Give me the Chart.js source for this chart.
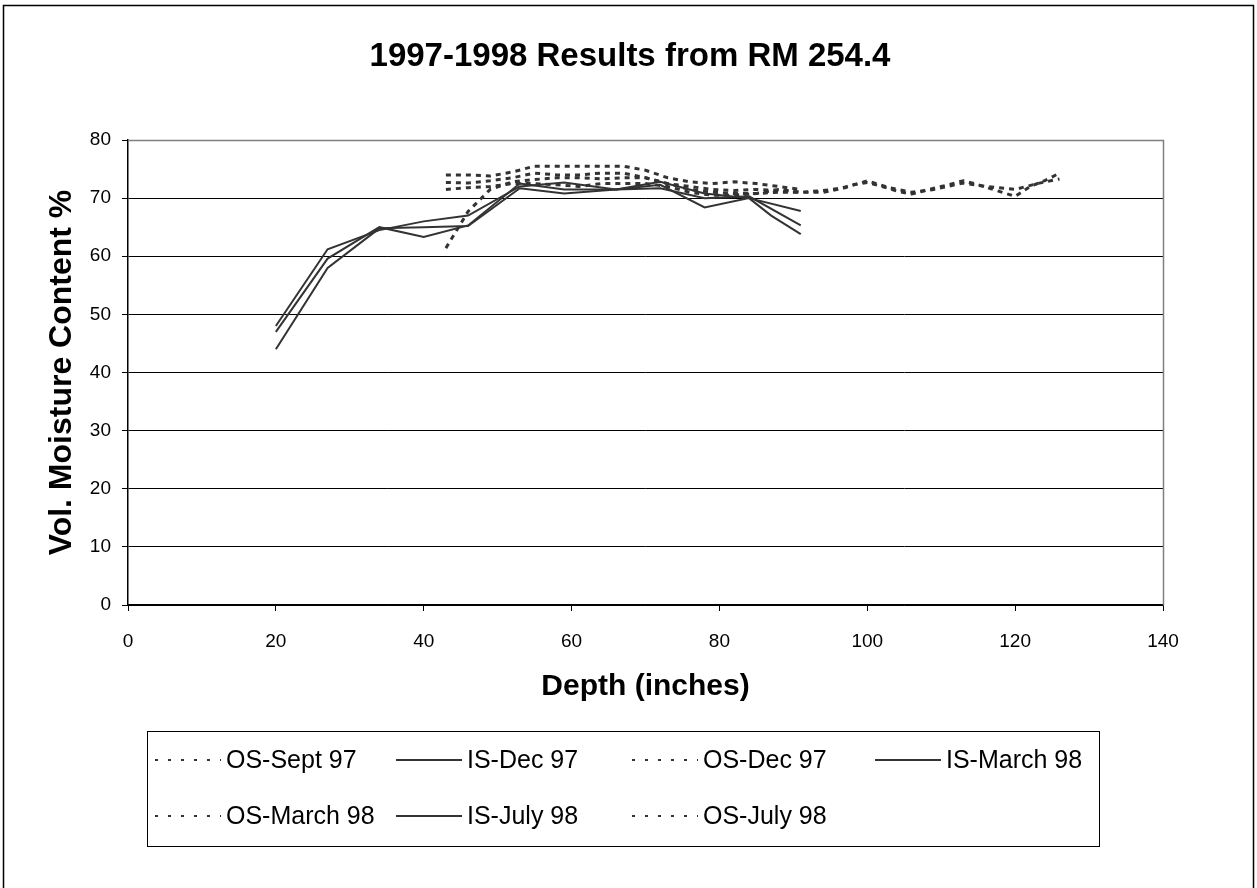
<!DOCTYPE html>
<html>
<head>
<meta charset="utf-8">
<script src="https://cdn.jsdelivr.net/npm/chart.js@4.4.1/dist/chart.umd.min.js"></script>
<style>
  html, body { margin: 0; padding: 0; background: #fff; }
  #wrap { width: 1257px; height: 888px; }
</style>
</head>
<body>
<div id="wrap"><canvas id="moistureChart"></canvas></div>
<script>
// depth (inches) for each series
const isDecDepth = [20, 27, 34, 40, 46, 53, 59, 66, 72, 78, 84, 91];
const isMarchDepth = [20, 27, 34, 40, 46, 53, 59, 66, 72, 78, 84, 87, 91];
const isJulyDepth = [20, 27, 34, 40, 46, 53, 59, 66, 72, 78, 84, 91];
const osSeptDepth = [43, 46, 49, 52, 55, 58, 61, 64, 67, 70, 73, 76, 79, 82, 85, 88, 91];
const osDecDepth = [43, 46, 49, 52, 55, 58, 61, 64, 67, 70, 73, 76, 79, 82, 85, 88, 91];
const osMarchDepth = [43, 46, 49, 52, 55, 58, 61, 64, 67, 70, 73, 76, 79, 82, 85, 88, 91, 94, 97, 100, 103, 106, 109, 113, 116, 120, 123, 126];
const osJulyDepth = [43, 46, 49, 52, 55, 58, 61, 64, 67, 70, 73, 76, 79, 82, 85, 88, 91, 94, 96, 98, 100, 102, 104, 106, 109, 111, 113, 115, 117, 120, 122, 124, 126];

// vol. moisture content %
const isDec97 = [48, 61.2, 64.5, 66, 67, 72, 72.7, 71.5, 72.8, 70.8, 70, 67.8];
const isMarch98 = [47, 59.6, 65, 63.3, 65.3, 72.5, 71.5, 71.5, 72.3, 68.4, 70, 67, 63.8];
const isJuly98 = [44, 58, 64.8, 65, 65.2, 71.7, 70.8, 71.5, 71.7, 70, 70.3, 65.3];
const osSept97 = [61.4, 67.7, 71.5, 72.8, 73.2, 73.5, 73.5, 73.3, 73.5, 73.5, 72.5, 71.5, 71, 70.8, 70.8, 71, 71];
const osDec97 = [74, 74, 73.8, 74.5, 75.5, 75.5, 75.5, 75.5, 75.5, 74.8, 73.5, 72.8, 72.5, 72.8, 72.5, 72, 71.5];
const osMarch98 = [72.7, 72.6, 73, 73.5, 74.3, 74, 74, 74.3, 74.3, 73.5, 72.5, 72, 71.5, 71.3, 71.5, 71.3, 71, 71.3, 71.8, 73, 71.8, 71, 71.5, 72.6, 72, 71.5, 72.5, 73.3];
const osJuly98 = [71.5, 71.8, 72, 72.5, 72.5, 72.3, 72, 72.5, 72.5, 72.5, 72, 71, 70.5, 70.5, 70.8, 71.5, 71, 71, 71.5, 72.3, 72.7, 72, 71.2, 70.7, 71.7, 72.3, 73, 72.3, 71.5, 70.3, 72, 73, 74.3];

const xTicks = [0, 20, 40, 60, 80, 100, 120, 140];
const yTicks = [0, 10, 20, 30, 40, 50, 60, 70, 80];

const FONT = "'Liberation Sans', Arial, sans-serif";
const LINE = '#333333';

function pts(xs, ys) {
    return xs.map((x, i) => ({ x: x, y: ys[i] }));
}

function series(label, xs, ys, dashed) {
    return {
        label: label,
        data: pts(xs, ys),
        showLine: true,
        borderColor: LINE,
        backgroundColor: LINE,
        borderWidth: dashed ? 3 : 2,
        borderDash: dashed ? [5, 5] : [],
        pointRadius: 0,
        tension: 0
    };
}

// legend order as in the picture
const datasets = [
    series('OS-Sept 97', osSeptDepth, osSept97, true),
    series('IS-Dec 97', isDecDepth, isDec97, false),
    series('OS-Dec 97', osDecDepth, osDec97, true),
    series('IS-March 98', isMarchDepth, isMarch98, false),
    series('OS-March 98', osMarchDepth, osMarch98, true),
    series('IS-July 98', isJulyDepth, isJuly98, false),
    series('OS-July 98', osJulyDepth, osJuly98, true)
];

// frame, title, plot border and the boxed legend
const decorations = {
    id: 'decorations',
    beforeDatasetsDraw(chart) {
        const { ctx, chartArea: a } = chart;
        ctx.save();
        ctx.strokeStyle = '#808080';
        ctx.lineWidth = 1.5;
        ctx.beginPath();
        ctx.moveTo(a.left, a.top + 0.5);
        ctx.lineTo(a.right + 0.5, a.top + 0.5);
        ctx.lineTo(a.right + 0.5, a.bottom);
        ctx.stroke();
        ctx.restore();
    },
    afterDraw(chart) {
        const ctx = chart.ctx;
        ctx.save();
        // outer frame
        ctx.strokeStyle = '#000';
        ctx.lineWidth = 1.5;
        ctx.strokeRect(3.5, 5.5, 1250, 900);

        // title
        ctx.fillStyle = '#000';
        ctx.font = 'bold 33px ' + FONT;
        ctx.textAlign = 'center';
        ctx.textBaseline = 'middle';
        ctx.fillText('1997-1998 Results from RM 254.4', 630, 57);

        // legend
        ctx.lineWidth = 1;
        ctx.strokeRect(147.5, 731.5, 952, 115);
        const cols = [155, 396, 632, 875];
        const rows = [760, 816];
        ctx.font = '25px ' + FONT;
        ctx.textAlign = 'left';
        chart.data.datasets.forEach((ds, i) => {
            const x = cols[i % 4];
            const y = rows[Math.floor(i / 4)];
            ctx.strokeStyle = ds.borderColor;
            ctx.lineWidth = 2;
            ctx.setLineDash(ds.borderDash.length ? [3, 10] : []);
            ctx.beginPath();
            ctx.moveTo(x, y);
            ctx.lineTo(x + 66, y);
            ctx.stroke();
            ctx.setLineDash([]);
            ctx.fillStyle = '#000';
            ctx.fillText(ds.label, x + 71, y + 1);
        });
        ctx.restore();
    }
};

new Chart(document.getElementById('moistureChart'), {
    type: 'scatter',
    data: { datasets: datasets },
    options: {
        responsive: true,
        maintainAspectRatio: false,
        animation: false,
        layout: { padding: { left: 0, right: 94, top: 140, bottom: 183 } },
        plugins: {
            legend: { display: false },
            title: { display: false },
            tooltip: { enabled: false }
        },
        scales: {
            x: {
                type: 'linear',
                min: 0,
                max: 140,
                afterBuildTicks: s => { s.ticks = xTicks.map(v => ({ value: v })); },
                afterFit: s => { s.height = 100; },
                ticks: { color: '#000', font: { family: FONT, size: 19 }, padding: 19, maxRotation: 0 },
                grid: { drawOnChartArea: false, drawTicks: true, tickLength: 6, color: '#000' },
                border: { display: true, color: '#000', width: 1.5 },
                title: {
                    display: true,
                    text: 'Depth (inches)',
                    color: '#000',
                    font: { family: FONT, size: 30, weight: 'bold' },
                    padding: { top: 0, bottom: 0 }
                }
            },
            y: {
                type: 'linear',
                min: 0,
                max: 80,
                afterBuildTicks: s => { s.ticks = yTicks.map(v => ({ value: v })); },
                afterFit: s => { s.width = 128; },
                ticks: { color: '#000', font: { family: FONT, size: 19 }, padding: 11 },
                grid: {
                    color: c => (c.tick && c.tick.value === 80 ? '#808080' : '#000'),
                    lineWidth: 1,
                    tickLength: 6,
                    tickColor: '#000'
                },
                border: { display: true, color: '#000', width: 1.5 },
                title: {
                    display: true,
                    text: 'Vol. Moisture Content %',
                    color: '#000',
                    font: { family: FONT, size: 32, weight: 'bold' },
                    padding: { top: 43, bottom: 0 }
                }
            }
        }
    },
    plugins: [decorations]
});
</script>
</body>
</html>
